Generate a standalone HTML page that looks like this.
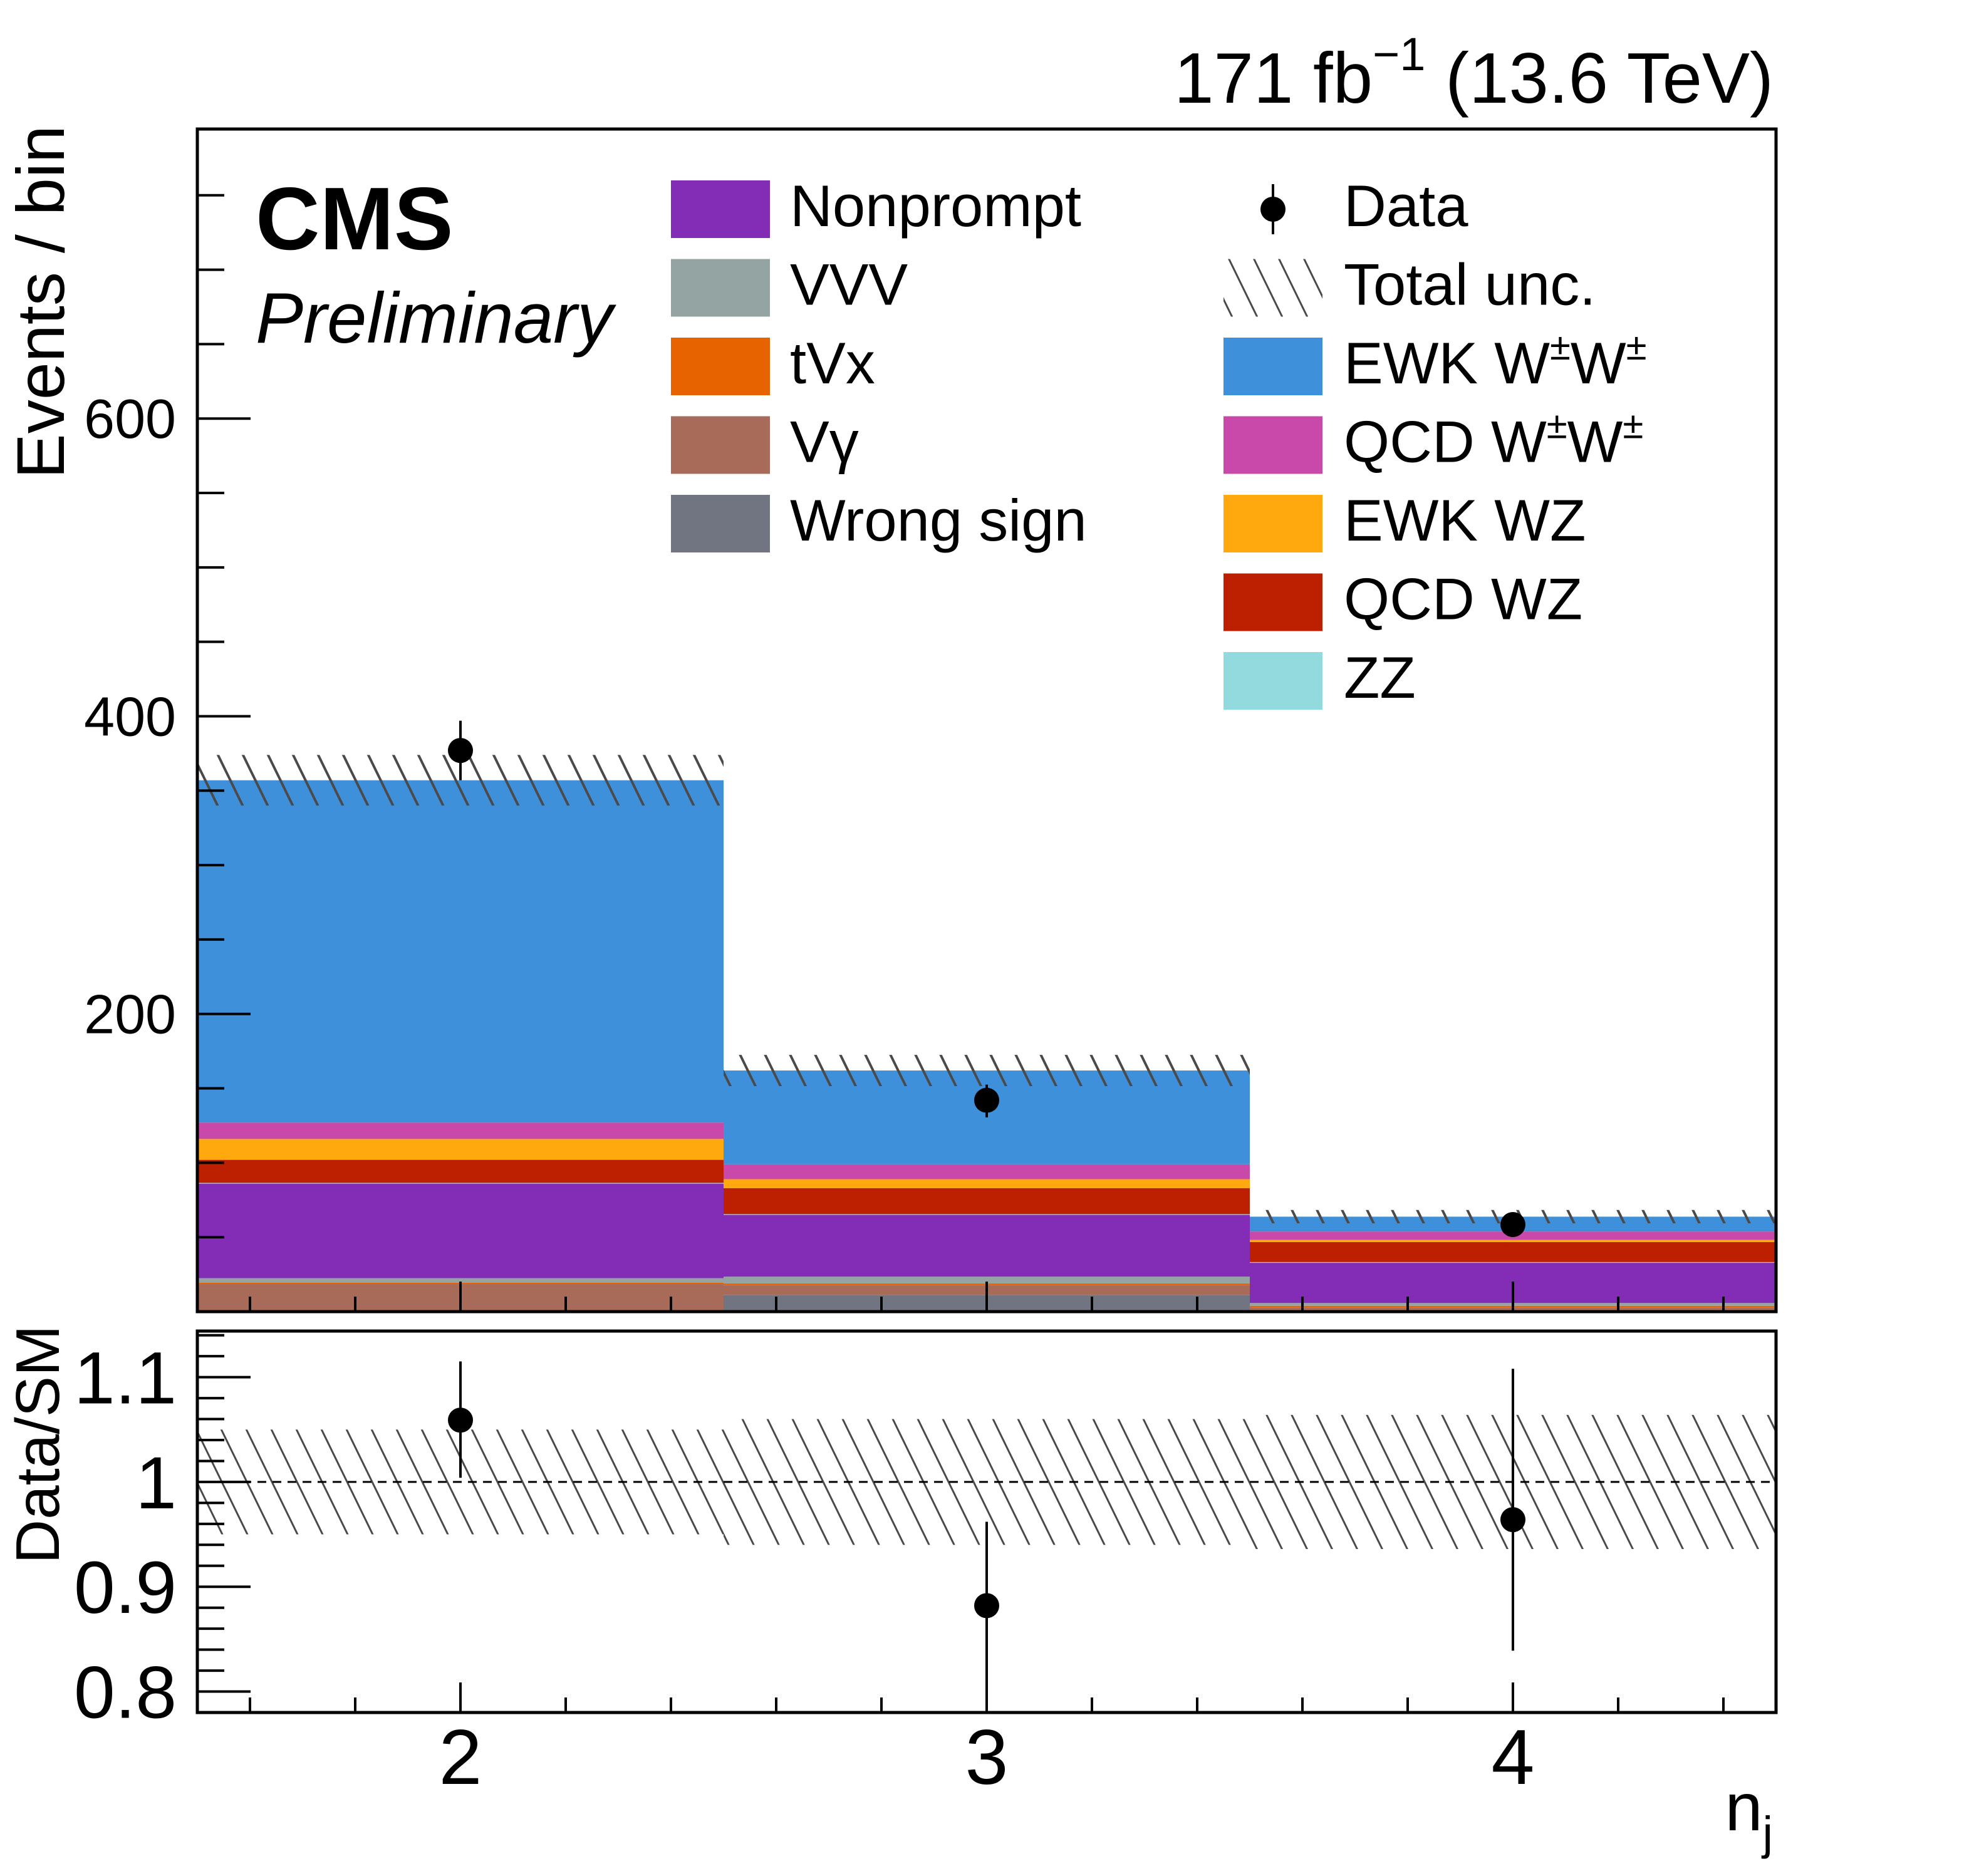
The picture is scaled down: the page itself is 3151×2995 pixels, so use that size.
<!DOCTYPE html>
<html><head><meta charset="utf-8"><style>
html,body{margin:0;padding:0;background:#fff;}
svg{display:block;font-family:"Liberation Sans",sans-serif;}
</style></head><body>
<svg id="chart" width="3151" height="2995" viewBox="0 0 3151 2995" xmlns="http://www.w3.org/2000/svg">
<defs>
<pattern id="hatch" patternUnits="userSpaceOnUse" width="40" height="82">
<line x1="-40" y1="-82" x2="80" y2="164" stroke="#4a4a4a" stroke-width="4"/>
<line x1="0" y1="-82" x2="120" y2="164" stroke="#4a4a4a" stroke-width="4"/>
<line x1="-80" y1="-82" x2="40" y2="164" stroke="#4a4a4a" stroke-width="4"/>
</pattern>
<pattern id="hatchR" patternUnits="userSpaceOnUse" width="40" height="82">
<line x1="-40" y1="-82" x2="80" y2="164" stroke="#4a4a4a" stroke-width="3"/>
<line x1="0" y1="-82" x2="120" y2="164" stroke="#4a4a4a" stroke-width="3"/>
<line x1="-80" y1="-82" x2="40" y2="164" stroke="#4a4a4a" stroke-width="3"/>
</pattern>
</defs>
<g id="main"></g>
<g id="ratio"></g>
<text x="2831" y="164" text-anchor="end" font-size="114">171 fb<tspan font-size="74" dy="-52">−1</tspan><tspan dy="52"> (13.6 TeV)</tspan></text>
<text x="408" y="398" font-size="142" font-weight="bold">CMS</text>
<text x="408" y="547" font-size="114" font-style="italic">Preliminary</text>
<text transform="translate(102,200) rotate(-90)" text-anchor="end" font-size="108">Events / bin</text>
<text transform="translate(94,2306) rotate(-90)" text-anchor="middle" font-size="98">Data/SM</text>
<text x="2830" y="2922" text-anchor="end" font-size="108">n<tspan font-size="74" dy="30">j</tspan></text>
<g id="legend"></g>
</svg>
<script>
const categories = [2, 3, 4];
const wrongSign = [1, 11, 1.3];
const vgamma = [17.5, 7, 1.3];
const tvx = [1, 1, 1.3];
const vvv = [3, 4.5, 1.9];
const nonprompt = [63.5, 41.5, 27];
const zz = [0.5, 0.5, 0.5];
const qcdWZ = [15.5, 17.5, 13.5];
const ewkWZ = [14, 6, 1.4];
const qcdWW = [11, 10, 5.6];
const ewkWW = [230, 63, 10];
const totalUnc = [17, 10.5, 4.5];
const dataVals = [377, 142, 58.5];
const dataErrUp = [20, 10.5, 7.6];
const dataErrDn = [20, 11.5, 7.6];
const ratioVals = [1.059, 0.882, 0.964];
const ratioErrUp = [0.056, 0.08, 0.144];
const ratioErrDn = [0.055, 0.074, 0.125];
const ratioUnc = [0.05, 0.06, 0.064];
const yTicks = [200, 400, 600];
const ratioTicks = [0.8, 0.9, 1, 1.1];
const xTicks = [2, 3, 4];

const NS = "http://www.w3.org/2000/svg";
const L = 315, R = 2835, T = 206, B = 2094, RT = 2125, RB = 2734;
const X0 = 1.5, X1 = 4.5, YMAX = 794.5, RMIN = 0.78, RMAX = 1.144;
const xS = v => L + (v - X0) / (X1 - X0) * (R - L);
const yS = v => B - v / YMAX * (B - T);
const rS = v => RB - (v - RMIN) / (RMAX - RMIN) * (RB - RT);
function mk(parent, tag, attrs) {
  const e = document.createElementNS(NS, tag);
  for (const k in attrs) e.setAttribute(k, attrs[k]);
  parent.appendChild(e);
  return e;
}
const main = document.getElementById('main');
const ratio = document.getElementById('ratio');
const legend = document.getElementById('legend');

const stack = [
  ['wrong-sign', wrongSign, '#717581'],
  ['vgamma', vgamma, '#a96b59'],
  ['tvx', tvx, '#e76300'],
  ['vvv', vvv, '#94a4a2'],
  ['nonprompt', nonprompt, '#832db6'],
  ['zz', zz, '#92dadd'],
  ['qcd-wz', qcdWZ, '#bd1f01'],
  ['ewk-wz', ewkWZ, '#ffa90e'],
  ['qcd-ww', qcdWW, '#c849a9'],
  ['ewk-ww', ewkWW, '#3f90da']
];
const totals = categories.map(() => 0);
stack.forEach(([name, vals, col]) => {
  categories.forEach((c, i) => {
    const lo = totals[i], hi = lo + vals[i];
    totals[i] = hi;
    const r = mk(main, 'rect', {x: xS(c - 0.5), y: yS(hi), width: xS(c + 0.5) - xS(c - 0.5), height: yS(lo) - yS(hi), fill: col});
    
    
  });
});
categories.forEach((c, i) => {
  const h = mk(main, 'rect', {x: xS(c - 0.5), y: yS(totals[i] + totalUnc[i]), width: xS(c + 0.5) - xS(c - 0.5), height: yS(totals[i] - totalUnc[i]) - yS(totals[i] + totalUnc[i]), fill: 'url(#hatch)'});
  
  
});
for (let v = 50; v < YMAX; v += 50) {
  const major = v % 200 === 0;
  const t = mk(main, 'line', {x1: L, x2: L + (major ? 85 : 43), y1: yS(v), y2: yS(v), stroke: '#000', 'stroke-width': 4});
  
  
}
yTicks.forEach(v => {
  const t = mk(main, 'text', {x: 281, y: yS(v) + 31, 'text-anchor': 'end', 'font-size': 88});
  t.textContent = v;
  
  
});
for (let k = 0; k <= 15; k++) {
  const v = X0 + 0.1 + k * 0.2;
  if (v > X1) break;
  const major = Math.abs(v - Math.round(v)) < 0.01;
  const len = major ? 48 : 24;
  const t = mk(main, 'line', {x1: xS(v), x2: xS(v), y1: B, y2: B - len, stroke: '#000', 'stroke-width': 4});
  
  
  const t2 = mk(ratio, 'line', {x1: xS(v), x2: xS(v), y1: RB, y2: RB - len, stroke: '#000', 'stroke-width': 4});
  
  
}
categories.forEach((c, i) => {
  const e = mk(main, 'line', {x1: xS(c), x2: xS(c), y1: yS(dataVals[i] + dataErrUp[i]), y2: yS(dataVals[i] - dataErrDn[i]), stroke: '#000', 'stroke-width': 4});
  
  
  const p = mk(main, 'circle', {cx: xS(c), cy: yS(dataVals[i]), r: 20, fill: '#000'});
  
  
});
const f1 = mk(main, 'rect', {x: L, y: T, width: R - L, height: B - T, fill: 'none', stroke: '#000', 'stroke-width': 5});



categories.forEach((c, i) => {
  const h = mk(ratio, 'rect', {x: xS(c - 0.5), y: rS(1 + ratioUnc[i]), width: xS(c + 0.5) - xS(c - 0.5), height: rS(1 - ratioUnc[i]) - rS(1 + ratioUnc[i]), fill: 'url(#hatchR)'});
  
  
});
const dl = mk(ratio, 'line', {x1: L, x2: R, y1: rS(1), y2: rS(1), stroke: '#000', 'stroke-width': 3, 'stroke-dasharray': '14,10'});


for (let k = 0; k <= 20; k++) {
  const v = 0.78 + k * 0.02;
  if (v > RMAX) break;
  const major = Math.abs(v * 10 - Math.round(v * 10)) < 0.01;
  const t = mk(ratio, 'line', {x1: L, x2: L + (major ? 85 : 43), y1: rS(v), y2: rS(v), stroke: '#000', 'stroke-width': 4});
  
  
}
ratioTicks.forEach(v => {
  const t = mk(ratio, 'text', {x: 282, y: rS(v) + 42, 'text-anchor': 'end', 'font-size': 118});
  t.textContent = String(v);
  
  
});
xTicks.forEach(v => {
  const t = mk(ratio, 'text', {x: xS(v), y: 2848, 'text-anchor': 'middle', 'font-size': 124});
  t.textContent = v;
  
  
});
categories.forEach((c, i) => {
  const e = mk(ratio, 'line', {x1: xS(c), x2: xS(c), y1: rS(ratioVals[i] + ratioErrUp[i]), y2: rS(ratioVals[i] - ratioErrDn[i]), stroke: '#000', 'stroke-width': 4});
  
  
  const p = mk(ratio, 'circle', {cx: xS(c), cy: rS(ratioVals[i]), r: 20, fill: '#000'});
  
  
});
const f2 = mk(ratio, 'rect', {x: L, y: RT, width: R - L, height: RB - RT, fill: 'none', stroke: '#000', 'stroke-width': 5});



const leftEntries = [['Nonprompt', '#832db6'], ['VVV', '#94a4a2'], ['tVx', '#e76300'], ['Vγ', '#a96b59'], ['Wrong sign', '#717581']];
const rightEntries = [['Data', null], ['Total unc.', 'hatch'], ['EWK W±W±', '#3f90da'], ['QCD W±W±', '#c849a9'], ['EWK WZ', '#ffa90e'], ['QCD WZ', '#bd1f01'], ['ZZ', '#92dadd']];
function legEntry(x0, tx, i, label, col) {
  const cy = 334 + i * 125.5;
  const g = mk(legend, 'g', {});
  
  
  if (col === null) {
    mk(g, 'line', {x1: x0 + 79, x2: x0 + 79, y1: cy - 40, y2: cy + 40, stroke: '#000', 'stroke-width': 4});
    mk(g, 'circle', {cx: x0 + 79, cy: cy, r: 20, fill: '#000'});
  } else if (col === 'hatch') {
    mk(g, 'rect', {x: x0, y: cy - 46, width: 158, height: 92, fill: 'url(#hatchR)'});
  } else {
    mk(g, 'rect', {x: x0, y: cy - 46, width: 158, height: 92, fill: col});
  }
  const t = mk(g, 'text', {x: tx, y: cy + 27, 'font-size': 94});
  if (label.indexOf('±') >= 0) {
    const parts = label.split('±');
    t.appendChild(document.createTextNode(parts[0]));
    const s1 = mk(t, 'tspan', {'font-size': 60, dy: -38}); s1.textContent = '±';
    const s2 = mk(t, 'tspan', {dy: 38}); s2.textContent = parts[1];
    const s3 = mk(t, 'tspan', {'font-size': 60, dy: -38}); s3.textContent = '±';
  } else t.textContent = label;
}
leftEntries.forEach((e, i) => legEntry(1071, 1261, i, e[0], e[1]));
rightEntries.forEach((e, i) => legEntry(1953, 2145, i, e[0], e[1]));
</script>
</body></html>
